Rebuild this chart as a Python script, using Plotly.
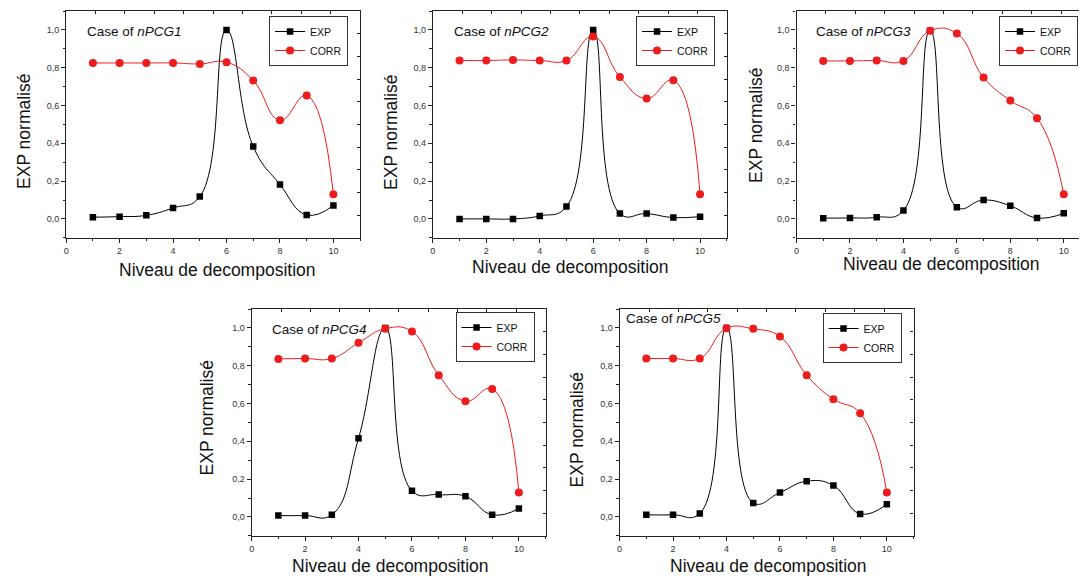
import plotly.graph_objects as go

# The page body has an 8px margin, so the figure is offset by 8px;
# all pixel positions below are page pixels, converted with OFF.
OFF = 8
W, H = 1087 - OFF, 576 - OFF

LEVELS = [1, 2, 3, 4, 5, 6, 7, 8, 9, 10]
CASES = ["nPCG1", "nPCG2", "nPCG3", "nPCG4", "nPCG5"]

EXP_1 = [0.009, 0.012, 0.019, 0.058, 0.118, 1.0, 0.383, 0.182, 0.021, 0.071]
CORR_1 = [0.825, 0.825, 0.825, 0.825, 0.820, 0.829, 0.732, 0.522, 0.653, 0.130]
EXP_2 = [0.0, 0.0, 0.0, 0.016, 0.065, 1.0, 0.028, 0.028, 0.007, 0.012]
CORR_2 = [0.838, 0.838, 0.841, 0.838, 0.838, 0.965, 0.751, 0.637, 0.734, 0.130]
EXP_3 = [0.004, 0.005, 0.009, 0.044, 0.996, 0.062, 0.100, 0.069, 0.005, 0.030]
CORR_3 = [0.836, 0.836, 0.838, 0.836, 0.996, 0.981, 0.748, 0.626, 0.533, 0.130]
EXP_4 = [0.007, 0.007, 0.011, 0.416, 1.0, 0.138, 0.118, 0.109, 0.011, 0.044]
CORR_4 = [0.836, 0.838, 0.838, 0.921, 0.996, 0.981, 0.750, 0.612, 0.677, 0.129]
EXP_5 = [0.011, 0.011, 0.018, 1.0, 0.074, 0.129, 0.189, 0.166, 0.016, 0.067]
CORR_5 = [0.838, 0.838, 0.838, 0.998, 0.995, 0.954, 0.750, 0.623, 0.549, 0.129]

EXP_ALL = [EXP_1, EXP_2, EXP_3, EXP_4, EXP_5]
CORR_ALL = [CORR_1, CORR_2, CORR_3, CORR_4, CORR_5]

X_TICKS = [0, 2, 4, 6, 8, 10]
X_MINOR = [1, 3, 5, 7, 9, 11]
Y_TICKS = [0.0, 0.2, 0.4, 0.6, 0.8, 1.0]
Y_TICK_TEXT = ["0,0", "0,2", "0,4", "0,6", "0,8", "1,0"]
Y_MINOR = [-0.1, 0.1, 0.3, 0.5, 0.7, 0.9, 1.1]

X_TITLE = "Niveau de decomposition"
Y_TITLE = "EXP normalisé"

FONT = "Liberation Sans, Arial, sans-serif"
AX = "#222222"
RED = "#ee1c1c"

# panel geometry in page pixels: left, right, top, bottom, x range max
PANELS = [
    (63.3, 358.1, 11.0, 237.8, 11.0),
    (431.0, 725.8, 11.0, 237.8, 11.0),
    (795.7, 1087.0, 11.0, 237.8, 10.87),
    (249.3, 544.1, 309.0, 535.8, 11.0),
    (618.3, 913.1, 309.0, 535.8, 11.0),
]
# top-right corner of each legend box
LEGEND_POS = [(346, 16), (714, 16), (1078, 16), (533, 312), (901, 313)]
CASE_POS = [(82, 32), (450, 32), (813, 32), (268, 329), (623, 318)]
XT_POS = [(215, 270), (569, 267), (941, 264), (389, 566), (767.5, 566)]
YT_POS = [(21, 131), (389, 132), (755, 125), (205, 418), (576, 430)]


def px(x):
    return (x - OFF) / W


def py(y):
    return 1 - (y - OFF) / H


fig = go.Figure()
layout = dict(
    width=W, height=H, margin=dict(l=0, r=0, t=0, b=0),
    paper_bgcolor="white", plot_bgcolor="white",
    font=dict(family=FONT, color="#111"),
    annotations=[],
)

n = len(CASES)
for i in range(n):
    k = i + 1
    ko = k + n
    xa, ya = f"x{k}", f"y{k}"
    xo, yo = f"x{ko}", f"y{ko}"
    lname = "legend" if k == 1 else f"legend{k}"
    l, r, t, b, xmax = PANELS[i]

    fig.add_trace(go.Scatter(
        x=LEVELS, y=EXP_ALL[i], name="EXP", mode="lines+markers",
        line=dict(color="black", width=1, shape="spline", smoothing=1.3),
        marker=dict(symbol="square", size=6.5, color="black"),
        xaxis=xa, yaxis=ya, legend=lname,
    ))
    fig.add_trace(go.Scatter(
        x=LEVELS, y=CORR_ALL[i], name="CORR", mode="lines+markers",
        line=dict(color=RED, width=1, shape="spline", smoothing=1.3),
        marker=dict(symbol="circle", size=8, color=RED),
        xaxis=xa, yaxis=ya, legend=lname,
    ))
    # empty helpers so the mirrored (top / right) axes are drawn
    fig.add_trace(go.Scatter(x=[None], y=[None], xaxis=xo, yaxis=ya,
                             showlegend=False, hoverinfo="skip"))
    fig.add_trace(go.Scatter(x=[None], y=[None], xaxis=xa, yaxis=yo,
                             showlegend=False, hoverinfo="skip"))

    key = "xaxis" if k == 1 else f"xaxis{k}"
    ykey = "yaxis" if k == 1 else f"yaxis{k}"
    xr = min(px(r), 1.0)
    layout[key] = dict(
        domain=[px(l), xr], anchor=ya, range=[0, xmax],
        tickmode="array", tickvals=X_TICKS, ticks="outside", ticklen=4,
        tickwidth=1, tickcolor=AX,
        minor=dict(tickmode="array", tickvals=X_MINOR, ticks="outside",
                   ticklen=2.5, tickcolor=AX),
        showline=True, linecolor=AX, linewidth=1.2,
        showgrid=False, zeroline=False,
        tickfont=dict(size=9, color="#333"),
    )
    layout[ykey] = dict(
        domain=[py(b), py(t)], anchor=xa, range=[-0.1, 1.1],
        tickmode="array", tickvals=Y_TICKS, ticktext=Y_TICK_TEXT,
        ticks="outside", ticklen=4, tickwidth=1, tickcolor=AX,
        minor=dict(tickmode="array", tickvals=Y_MINOR, ticks="outside",
                   ticklen=2.5, tickcolor=AX),
        showline=True, linecolor=AX, linewidth=1.2,
        showgrid=False, zeroline=False,
        tickfont=dict(size=9, color="#333"),
    )
    layout[f"xaxis{ko}"] = dict(
        overlaying=xa, anchor=ya, side="top", range=[0, xmax],
        tickmode="linear", tick0=0, dtick=1.1, ticks="inside", ticklen=3,
        tickcolor=AX, showticklabels=False, showline=True, linecolor=AX,
        linewidth=1.2, showgrid=False, zeroline=False,
    )
    layout[f"yaxis{ko}"] = dict(
        overlaying=ya, anchor=xa, side="right", range=[-0.1, 1.1],
        tickmode="linear", tick0=-0.1, dtick=0.12, ticks="inside", ticklen=3,
        tickcolor=AX, showticklabels=False, showline=True, linecolor=AX,
        linewidth=1.2, showgrid=False, zeroline=False,
    )

    lx, ly = LEGEND_POS[i]
    layout[lname] = dict(
        x=px(lx), y=py(ly), xanchor="right", yanchor="top",
        bgcolor="white", bordercolor="#333", borderwidth=1,
        font=dict(size=10.5, family=FONT, color="#111"),
        itemwidth=30, tracegroupgap=0,
    )

    cx, cy = CASE_POS[i]
    layout["annotations"].append(dict(
        x=px(cx), y=py(cy), xref="paper", yref="paper", xanchor="left",
        yanchor="middle", showarrow=False,
        text=f"Case of <i>{CASES[i]}</i>",
        font=dict(size=13.5, family=FONT, color="#111"),
    ))
    tx, ty = XT_POS[i]
    layout["annotations"].append(dict(
        x=px(tx), y=py(ty), xref="paper", yref="paper", xanchor="center",
        yanchor="middle", showarrow=False, text=X_TITLE,
        font=dict(size=17.5, family=FONT, color="#111"),
    ))
    yx, yy = YT_POS[i]
    layout["annotations"].append(dict(
        x=px(yx), y=py(yy), xref="paper", yref="paper", xanchor="center",
        yanchor="middle", showarrow=False, text=Y_TITLE, textangle=-90,
        font=dict(size=17.5, family=FONT, color="#111"),
    ))

fig.update_layout(**layout)
fig.write_html("out.html")
